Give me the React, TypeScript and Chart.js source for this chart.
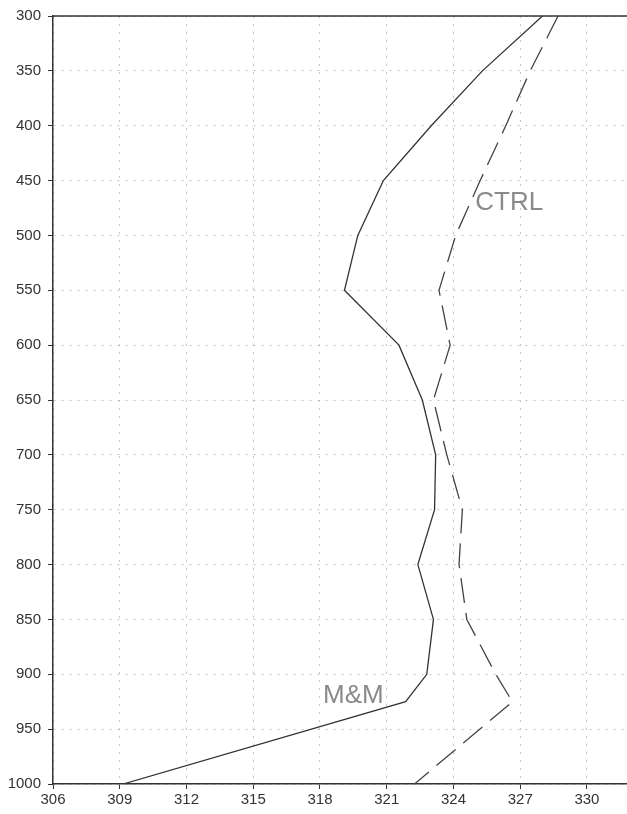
import React, { useEffect, useRef } from "react";
import { Chart, registerables } from "chart.js";

Chart.register(...registerables);

const pressure = [300, 350, 400, 450, 500, 550, 600, 650, 700, 750, 800, 850, 900, 925, 1000];
const mmValues = [328.0, 325.3, 323.0, 320.85, 319.7, 319.1, 321.55, 322.6, 323.2, 323.15, 322.4, 323.1, 322.8, 321.85, 309.15];
const ctrlValues = [328.7, 327.45, 326.35, 325.2, 324.1, 323.35, 323.85, 323.1, 323.7, 324.4, 324.25, 324.6, 325.9, 326.65, 322.25];
const xTicks = [306, 309, 312, 315, 318, 321, 324, 327, 330];
const yTicks = [300, 350, 400, 450, 500, 550, 600, 650, 700, 750, 800, 850, 900, 950, 1000];
const seriesLabels = [
  { text: "CTRL", x: 324.98, y: 477 },
  { text: "M&M", x: 318.14, y: 926 },
];

const labelPlugin = {
  id: "labelsAndFrame",
  afterDraw(chart: any) {
    const { ctx, chartArea, scales } = chart;
    ctx.save();
    ctx.strokeStyle = "#333";
    ctx.lineWidth = 1.5;
    ctx.setLineDash([]);
    ctx.beginPath();
    ctx.moveTo(chartArea.left, chartArea.top);
    ctx.lineTo(chartArea.right, chartArea.top);
    ctx.stroke();
    ctx.fillStyle = "#8a8a8a";
    ctx.font = "26px 'Liberation Sans', sans-serif";
    ctx.textAlign = "left";
    ctx.textBaseline = "alphabetic";
    for (const l of seriesLabels) {
      ctx.fillText(l.text, scales.x.getPixelForValue(l.x), scales.y.getPixelForValue(l.y));
    }
    ctx.restore();
  },
};

export default function App() {
  const ref = useRef<HTMLCanvasElement>(null);
  useEffect(() => {
    if (!ref.current) return;
    const chart = new Chart(ref.current, {
      type: "scatter",
      data: {
        datasets: [
          {
            label: "M&M",
            data: pressure.map((p, i) => ({ x: mmValues[i], y: p })),
            showLine: true,
            borderColor: "#333",
            borderWidth: 1.3,
            pointRadius: 0,
            tension: 0,
          },
          {
            label: "CTRL",
            data: pressure.map((p, i) => ({ x: ctrlValues[i], y: p })),
            showLine: true,
            borderColor: "#444",
            borderWidth: 1.3,
            borderDash: [25, 10],
            pointRadius: 0,
            tension: 0,
          },
        ],
      },
      options: {
        animation: false,
        responsive: false,
        maintainAspectRatio: false,
        layout: { padding: { top: 16, right: 0, left: 0, bottom: 0 } },
        plugins: { legend: { display: false }, tooltip: { enabled: false } },
        scales: {
          x: {
            type: "linear",
            min: 306,
            max: 331.8,
            afterBuildTicks: (s: any) => {
              s.ticks = xTicks.map((v) => ({ value: v }));
            },
            afterFit: (s: any) => {
              s.height = 30;
            },
            grid: {
              color: "#c4c4c4",
              lineWidth: 1,
              tickColor: "#333",
              tickLength: 5,
              tickBorderDash: [],
            },
            border: { display: true, color: "#333", width: 1.5, dash: [2, 6] },
            ticks: {
              color: "#333",
              font: { family: "'Liberation Sans', sans-serif", size: 15 },
              padding: 2,
              maxRotation: 0,
              autoSkip: false,
              callback: (v: any) => String(v),
            },
          },
          y: {
            type: "linear",
            min: 300,
            max: 1000,
            reverse: true,
            afterBuildTicks: (s: any) => {
              s.ticks = yTicks.map((v) => ({ value: v }));
            },
            afterFit: (s: any) => {
              s.width = 53;
            },
            grid: {
              color: "#c4c4c4",
              lineWidth: 1,
              tickColor: "#333",
              tickLength: 5,
              tickBorderDash: [],
            },
            border: { display: true, color: "#333", width: 1.5, dash: [2, 6] },
            ticks: {
              color: "#333",
              font: { family: "'Liberation Sans', sans-serif", size: 15 },
              padding: 7,
              autoSkip: false,
              callback: (v: any) => String(v),
            },
          },
        },
      },
      plugins: [labelPlugin],
    } as any);
    return () => chart.destroy();
  }, []);
  return (
    <div style={{ position: "absolute", left: 0, top: 0, width: 627, height: 814, background: "#fff" }}>
      <canvas ref={ref} width={627} height={814} style={{ width: 627, height: 814, display: "block" }} />
    </div>
  );
}
